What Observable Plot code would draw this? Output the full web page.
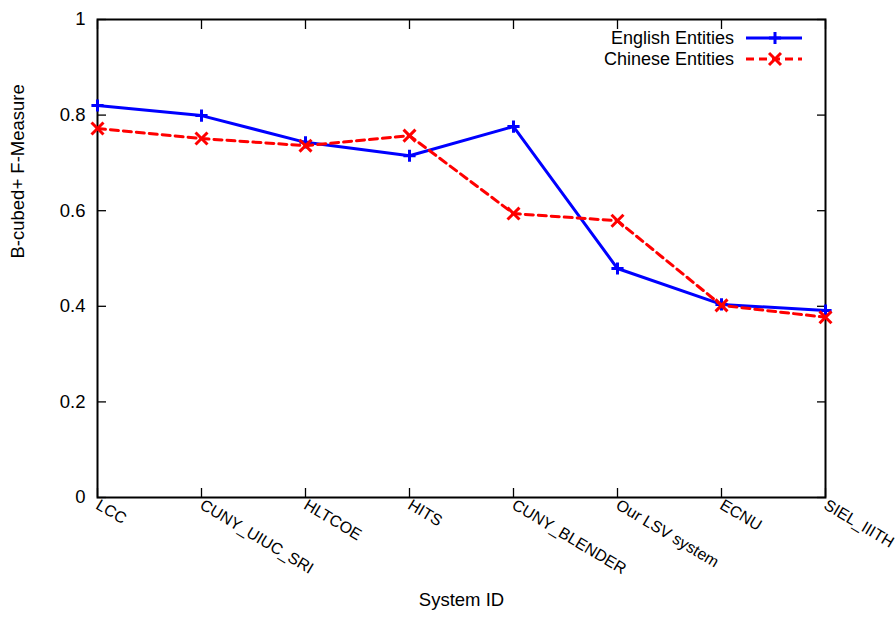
<!DOCTYPE html>
<html>
<head>
<meta charset="utf-8">
<script src="https://cdn.jsdelivr.net/npm/d3@7"></script>
<script src="https://cdn.jsdelivr.net/npm/@observablehq/plot@0.6"></script>
<style>
  html, body { margin: 0; padding: 0; background: #fff; }
  #chart svg { display: block; font-family: "Liberation Sans", Arial, sans-serif; }
</style>
</head>
<body>
<div id="chart"></div>
<script>
const systems = ["LCC", "CUNY_UIUC_SRI", "HLTCOE", "HITS", "CUNY_BLENDER", "Our LSV system", "ECNU", "SIEL_IIITH"];
const english = [0.820, 0.799, 0.743, 0.715, 0.776, 0.479, 0.404, 0.391];
const chinese = [0.772, 0.751, 0.736, 0.757, 0.594, 0.579, 0.402, 0.377];
const yTicks = [0, 0.2, 0.4, 0.6, 0.8, 1];
const seriesNames = ["English Entities", "Chinese Entities"];

const engData = systems.map((s, i) => ({system: s, value: english[i]}));
const chnData = systems.map((s, i) => ({system: s, value: chinese[i]}));

const W = 896, H = 617;
const svg = Plot.plot({
  width: W,
  height: H,
  marginLeft: 97,
  marginRight: 71,
  marginTop: 19,
  marginBottom: 120,
  style: {fontFamily: '"Liberation Sans", Arial, sans-serif', background: "#fff", color: "#000"},
  x: {type: "point", domain: systems, padding: 0},
  y: {domain: [0, 1]},
  marks: [
    Plot.axisY(yTicks, {anchor: "left", tickSize: -9, tickPadding: 21, tickFormat: d => d === 0 ? "0" : d === 1 ? "1" : d3.format(".1f")(d), fontSize: 18.5, label: null, strokeWidth: 1.3}),
    Plot.axisY(yTicks, {anchor: "right", tickSize: -9, tickFormat: () => "", label: null, strokeWidth: 1.3}),
    Plot.axisX(systems, {anchor: "bottom", tickSize: -9, tickPadding: 15, tickRotate: 31, fontSize: 16, label: null, strokeWidth: 1.3}),
    Plot.axisX(systems, {anchor: "top", tickSize: -9, tickFormat: () => "", label: null, strokeWidth: 1.3}),
    Plot.frame({stroke: "#000", strokeWidth: 2}),
    Plot.line(engData, {x: "system", y: "value", stroke: "#0000ff", strokeWidth: 3}),
    Plot.dot(engData, {x: "system", y: "value", symbol: "plus", r: 4, stroke: "#0000ff", strokeWidth: 3}),
    Plot.line(chnData, {x: "system", y: "value", stroke: "#ff0000", strokeWidth: 3, strokeDasharray: "8,5"}),
    Plot.dot(chnData, {x: "system", y: "value", symbol: "times", r: 5.5, stroke: "#ff0000", strokeWidth: 3}),
    Plot.text(["B-cubed+ F-Measure"], {frameAnchor: "left", dx: -79, rotate: -90, fontSize: 18.5, fill: "#000"}),
    Plot.text(["System ID"], {frameAnchor: "bottom", dy: 108, fontSize: 18.5, fill: "#000"})
  ]
});

// Legend (top-right, inside plot area)
const g = d3.select(svg).append("g").attr("font-size", 18).attr("font-family", '"Liberation Sans", Arial, sans-serif');
const legendItems = [
  {name: seriesNames[0], color: "#0000ff", dash: null, sym: d3.symbolPlus, size: 50},
  {name: seriesNames[1], color: "#ff0000", dash: "8,5", sym: d3.symbolTimes, size: 95}
];
legendItems.forEach((it, i) => {
  const y = 38 + i * 21;
  g.append("text").attr("x", 734).attr("y", y).attr("dy", "0.35em").attr("text-anchor", "end").attr("fill", "#000").text(it.name);
  g.append("line").attr("x1", 746).attr("x2", 802).attr("y1", y).attr("y2", y)
    .attr("stroke", it.color).attr("stroke-width", 3).attr("stroke-dasharray", it.dash);
  g.append("path").attr("d", d3.symbol(it.sym, it.size)()).attr("transform", `translate(775,${y})`)
    .attr("fill", "none").attr("stroke", it.color).attr("stroke-width", 3);
});

document.getElementById("chart").appendChild(svg);
</script>
</body>
</html>
